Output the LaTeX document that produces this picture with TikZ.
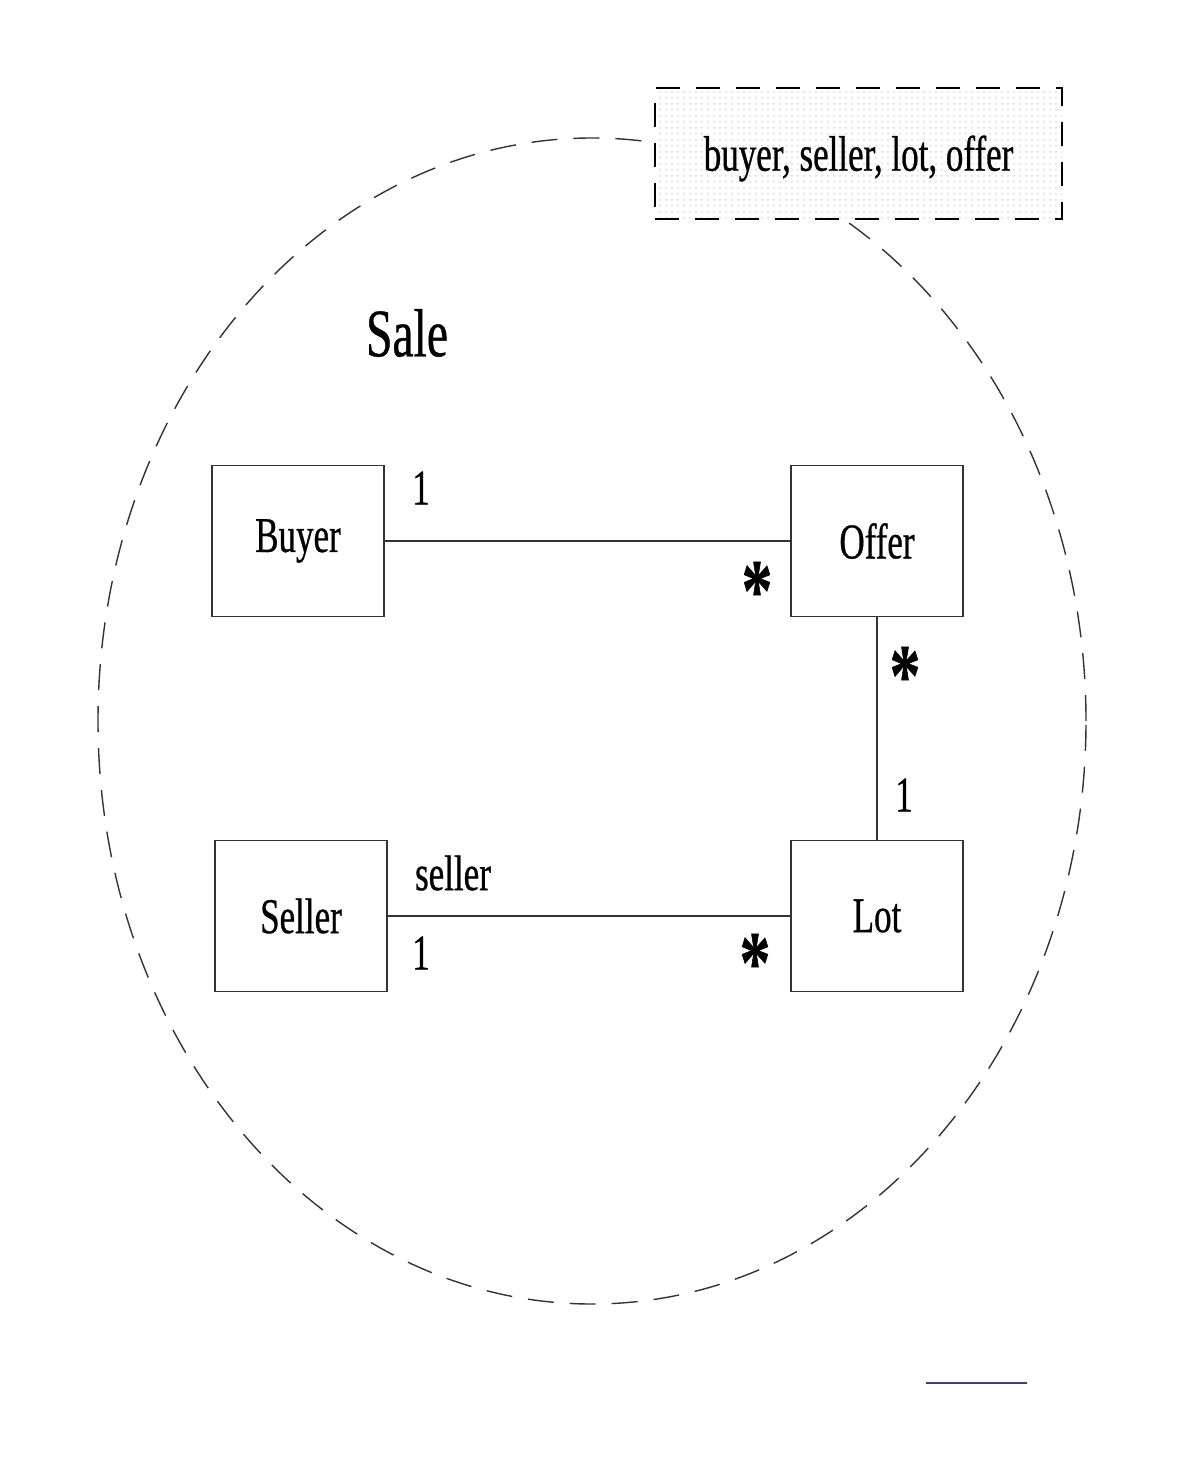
\documentclass[tikz,border=0pt]{standalone}
\usepackage{fontspec}
\setmainfont{Liberation Serif}[FakeStretch=0.7, FakeBold=0.6]
\usetikzlibrary{patterns}

\definecolor{umlLine}{HTML}{333333}
\definecolor{umlRule}{HTML}{3B4272}

\tikzset{
  classbox/.style={draw=umlLine, line width=0.7pt, minimum width=86pt, minimum height=75.5pt,
    inner sep=0pt, font=\fontsize{25}{28}\selectfont},
  notebox/.style={draw=black, line width=1pt, dash pattern=on 12pt off 8pt,
    preaction={fill=white}, pattern=dots, pattern color=black!15,
    minimum width=203.5pt, minimum height=65.5pt, inner sep=0pt,
    font=\fontsize{25}{28}\selectfont},
  assoc/.style={draw=umlLine, line width=0.7pt},
  mult/.style={font=\fontsize{25}{28}\selectfont, inner sep=0pt},
  star/.style={font=\fontsize{44}{48}\bfseries\selectfont, inner sep=0pt}
}

\begin{document}
\begin{tikzpicture}[x=0.5pt,y=-0.5pt]
  \useasboundingbox (0,0) rectangle (1184,1460);

  % package boundary
  \draw[umlLine, line width=0.7pt, dash pattern=on 13pt off 8pt]
    (592,721) ellipse [x radius=247pt, y radius=291.5pt];
  \node[font=\fontsize{34}{38}\selectfont] (sale) at (407,333) {Sale};

  % classes
  \node[classbox] (buyer) at (298,541) {\raisebox{-3pt}{Buyer}};
  \node[classbox] (offer) at (877,541) {\raisebox{-2pt}{Offer}};
  \node[classbox] (seller) at (301,916) {\raisebox{-2pt}{Seller}};
  \node[classbox] (lot) at (877,916) {\raisebox{-1pt}{Lot}};

  % associations
  \draw[assoc] (buyer) -- (offer);
  \draw[assoc] (offer) -- (lot);
  \draw[assoc] (seller.east |- lot.west) -- (lot.west);

  % multiplicities
  \node[mult] (m1) at (421,488) {1};
  \node[star] (m2) at (757,591) {*};
  \node[star] (m3) at (905,676) {*};
  \node[mult] (m4) at (904,795) {1};
  \node[mult] (r1) at (453,873) {seller};
  \node[mult] (m5) at (421,953) {1};
  \node[star] (m6) at (755,963) {*};

  % template parameters
  \node[notebox, label={[yshift=-2.5pt, font=\fontsize{25}{28}\selectfont]center:buyer, seller, lot, offer}]
    (params) at (858.5,153.5) {};

  \draw[umlRule, line width=1pt] (926,1383) -- (1027,1383);
\end{tikzpicture}
\end{document}
